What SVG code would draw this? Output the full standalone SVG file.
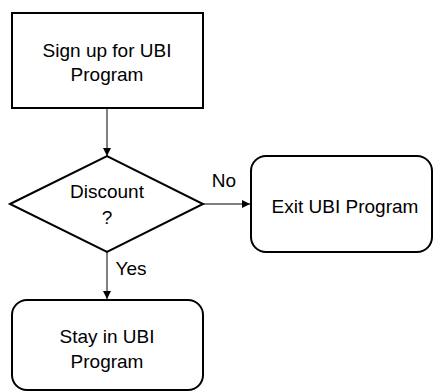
<svg xmlns="http://www.w3.org/2000/svg" width="434" height="392" viewBox="0 0 434 392">
<style>
.box{fill:#fff;stroke:#000;stroke-width:2}
.t{font-family:"Liberation Sans",Arial,sans-serif;font-size:19px;fill:#000;text-anchor:middle}
.c{stroke:#000;stroke-width:1;fill:none}
</style>
<defs>
<marker id="ah" markerWidth="8" markerHeight="8" refX="8" refY="4" orient="auto" markerUnits="userSpaceOnUse">
<path d="M0,0 L8,4 L0,8 Z" fill="#000"/>
</marker>
</defs>
<rect width="434" height="392" fill="#fff"/>
<g id="connectors">
<line class="c" x1="107" y1="109" x2="107" y2="156" marker-end="url(#ah)"/>
<line class="c" x1="203" y1="204" x2="250" y2="204" marker-end="url(#ah)"/>
<line class="c" x1="107" y1="252" x2="107" y2="299" marker-end="url(#ah)"/>
<text class="t" x="224" y="187">No</text>
<text class="t" x="131" y="275">Yes</text>
</g>
<g id="signup">
<rect class="box" x="12" y="13" width="191" height="95"/>
<text class="t" x="107" y="57">Sign up for UBI</text>
<text class="t" x="107" y="81">Program</text>
</g>
<g id="discount">
<polygon class="box" points="10,204 107,156 203,204 107,252"/>
<text class="t" x="107" y="198">Discount</text>
<text class="t" x="107" y="224">?</text>
</g>
<g id="exit">
<rect class="box" x="251" y="156" width="181" height="96" rx="15" ry="15"/>
<text class="t" x="345" y="213">Exit UBI Program</text>
</g>
<g id="stay">
<rect class="box" x="12" y="300" width="191" height="90" rx="15" ry="15"/>
<text class="t" x="107" y="343">Stay in UBI</text>
<text class="t" x="107" y="368">Program</text>
</g>
</svg>
